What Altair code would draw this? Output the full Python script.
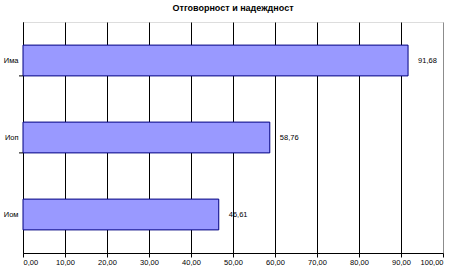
import altair as alt
import pandas as pd

categories = ["Има", "Иоп", "Иом"]
values = [91.68, 58.76, 46.61]
x_ticks = [0, 10, 20, 30, 40, 50, 60, 70, 80, 90, 100]

df = pd.DataFrame({"cat": categories, "val": values})
df["label"] = [f"{v:.2f}".replace(".", ",") for v in values]

FONT = "Liberation Sans"

yscale = alt.Scale(domain=categories, paddingInner=0.6, paddingOuter=0.3)
xscale = alt.Scale(domain=[0, 100], nice=False)

base = alt.Chart(df)

bars = base.mark_bar(color="#9999FF", fill="#9999FF", opacity=1, fillOpacity=1,
                     stroke="#000080", strokeWidth=1).encode(
    x=alt.X(
        "val:Q",
        scale=xscale,
        axis=alt.Axis(
            values=x_ticks,
            title=None,
            grid=True,
            zindex=0,
            gridColor=alt.condition("datum.value == 100", alt.value("#8c8c8c"), alt.value("#000000")),
            gridOpacity=1,
            gridWidth=1,
            domainColor="#000000",
            tickColor="#000000",
            tickSize=4,
            labelFont=FONT,
            labelFontSize=7.5,
            labelColor="#000000",
            labelPadding=1,
            labelExpr="replace(format(datum.value, '.2f'), '.', ',')",
        ),
    ),
    y=alt.Y(
        "cat:N",
        scale=yscale,
        sort=categories,
        axis=alt.Axis(
            title=None,
            ticks=False,
            zindex=0,
            domainColor="#000000",
            labelFont=FONT,
            labelFontSize=7.5,
            labelColor="#000000",
            labelPadding=5,
        ),
    ),
)

text = base.mark_text(align="left", baseline="middle", dx=10, font=FONT, fontSize=7.5, color="#000000").encode(
    x=alt.X("val:Q", scale=xscale),
    y=alt.Y("cat:N", scale=yscale, sort=categories),
    text="label:N",
)

ticks = base.transform_filter(alt.datum.cat != categories[-1]).mark_rule(color="#000000", strokeWidth=1).encode(
    x=alt.value(-4),
    x2=alt.value(0),
    y=alt.Y("cat:N", scale=yscale, sort=categories, bandPosition=1),
)

chart = (
    alt.layer(bars, text, ticks)
    .properties(
        width=420,
        height=231,
        title=alt.TitleParams(
            "Отговорност и надеждност",
            font=FONT,
            fontSize=9,
            fontWeight="bold",
            color="#000000",
            anchor="middle",
            offset=9,
        ),
        autosize=alt.AutoSizeParams(type="none"),
        padding={"left": 23, "top": 22, "right": 12, "bottom": 15},
    )
    .configure_view(stroke=None)
    .configure(background="#ffffff")
)

chart.save("out.html", embed_options={"renderer": "svg", "actions": False})
